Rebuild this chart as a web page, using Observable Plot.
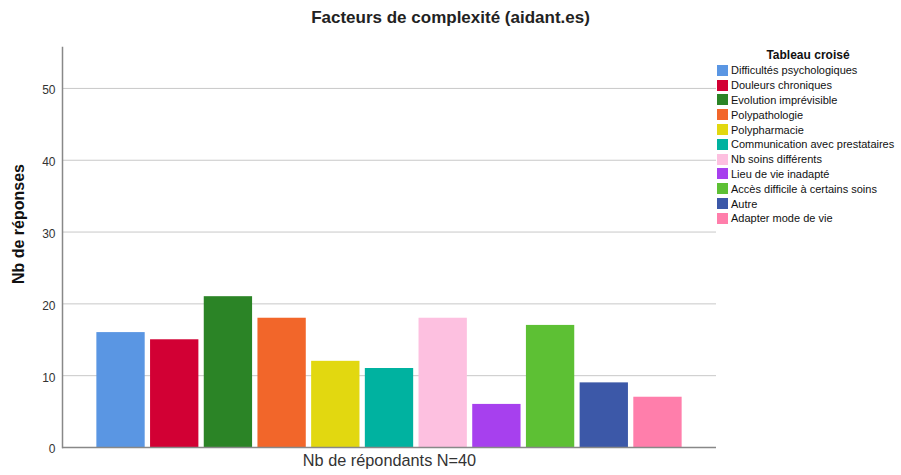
<!DOCTYPE html>
<html>
<head>
<meta charset="utf-8">
<script src="https://cdn.jsdelivr.net/npm/d3@7"></script>
<script src="https://cdn.jsdelivr.net/npm/@observablehq/plot@0.6"></script>
<style>
  body { margin: 0; background: #fff; font-family: "Liberation Sans", Arial, sans-serif; }
  #wrap { position: relative; width: 901px; height: 475px; overflow: hidden; }
  #title { position: absolute; left: 0; width: 901px; top: 8px; text-align: center; font-size: 17px; font-weight: bold; color: #222; }
  #chart { position: absolute; left: 0; top: 40px; }
  #ylab { position: absolute; left: 19px; top: 224px; transform: translate(-50%, -50%) rotate(-90deg); font-size: 16px; font-weight: bold; color: #111; white-space: nowrap; }
  #legend { position: absolute; left: 717px; top: 47px; font-size: 11px; color: #111; }
  #legend .lt { font-weight: bold; font-size: 12px; text-align: center; width: 182px; line-height: 16px; }
  #legend .row { display: flex; align-items: center; height: 14.8px; white-space: nowrap; }
  #legend .sw { width: 11px; height: 11px; margin-right: 3px; flex: none; }
</style>
</head>
<body>
<div id="wrap">
  <div id="title">Facteurs de complexité (aidant.es)</div>
  <div id="ylab">Nb de réponses</div>
  <div id="chart"></div>
  <div id="legend"></div>
</div>
<script>
const categories = [
  "Difficultés psychologiques",
  "Douleurs chroniques",
  "Evolution imprévisible",
  "Polypathologie",
  "Polypharmacie",
  "Communication avec prestataires",
  "Nb soins différents",
  "Lieu de vie inadapté",
  "Accès difficile à certains soins",
  "Autre",
  "Adapter mode de vie"
];
const values = [16, 15, 21, 18, 12, 11, 18, 6, 17, 9, 7];
const colors = ["#5A96E3", "#D20034", "#2B8426", "#F2662A", "#E2D810", "#00B2A0", "#FDC0E0", "#A740EE", "#5DC034", "#3C58A8", "#FF7EAB"];
const yTicks = [0, 10, 20, 30, 40, 50];
const legendTitle = "Tableau croisé";
const xLabel = "Nb de répondants N=40";

const data = categories.map((c, i) => ({category: c, value: values[i]}));

const plot = Plot.plot({
  width: 901,
  height: 435,
  marginLeft: 62,
  marginRight: 185,
  marginTop: 7,
  marginBottom: 28,
  style: {fontFamily: "Liberation Sans, Arial, sans-serif", fontSize: "12px", color: "#333"},
  x: {domain: categories, paddingInner: 0.1, paddingOuter: 0.64, round: false, axis: null},
  y: {domain: [0, 55.7], ticks: yTicks},
  color: {domain: categories, range: colors},
  marks: [
    Plot.gridY(yTicks.filter(d => d > 0), {stroke: "#c8c8c8", strokeOpacity: 1}),
    Plot.axisY(yTicks, {tickSize: 0, tickPadding: 7, label: null, fontSize: 12, fill: "#333", dy: 2}),
    Plot.barY(data, {x: "category", y: "value", fill: "category"}),
    Plot.ruleY([0], {stroke: "#888", strokeWidth: 1.5}),
    Plot.frame({anchor: "left", stroke: "#888", strokeWidth: 1.5}),
    Plot.text([xLabel], {frameAnchor: "bottom", dy: 18, fontSize: 16.3, fill: "#333", text: d => d})
  ]
});
document.getElementById("chart").appendChild(plot);

const leg = document.getElementById("legend");
const t = document.createElement("div");
t.className = "lt";
t.textContent = legendTitle;
leg.appendChild(t);
categories.forEach((c, i) => {
  const r = document.createElement("div");
  r.className = "row";
  const s = document.createElement("span");
  s.className = "sw";
  s.style.background = colors[i];
  const l = document.createElement("span");
  l.textContent = c;
  r.appendChild(s); r.appendChild(l);
  leg.appendChild(r);
});
</script>
</body>
</html>
